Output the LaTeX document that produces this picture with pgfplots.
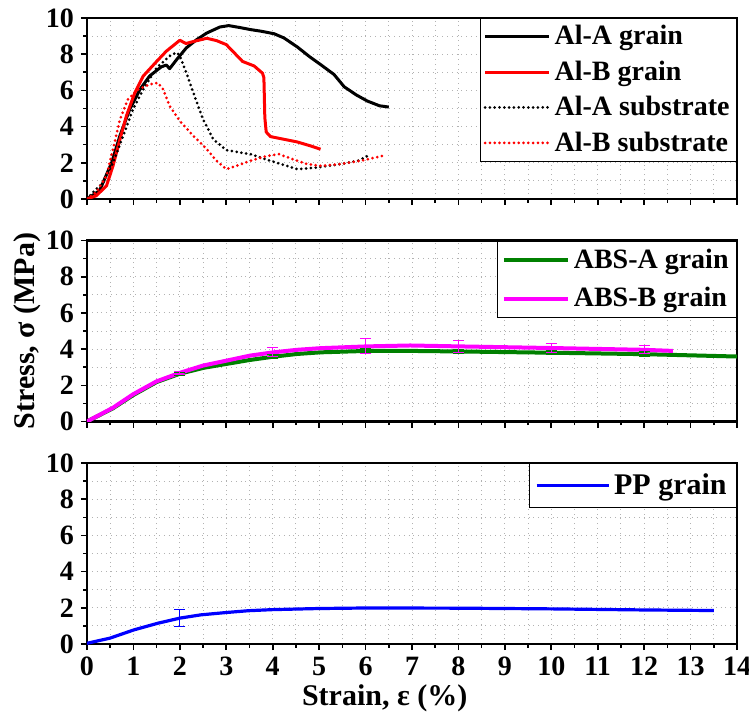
\documentclass[border=0pt]{standalone}
\usepackage{fontspec}
\setmainfont{Liberation Serif}
\usepackage{pgfplots}
\pgfplotsset{compat=1.18}
\usepgfplotslibrary{groupplots}
\definecolor{myGreen}{RGB}{0,128,0}
\definecolor{myMag}{RGB}{255,0,255}
\tikzset{mydots/.style={line width=1.5pt, dash pattern=on 0pt off 2.4pt, line cap=round}}
\begin{document}
\begin{tikzpicture}
\begin{groupplot}[
 group style={group size=1 by 3, vertical sep=20.75pt, x descriptions at=edge bottom},
 width=325pt, height=90.5pt, scale only axis,
 xmin=0, xmax=14, ymin=0, ymax=10,
 xtick={0,...,14}, minor x tick num=1,
 ytick={0,2,...,10}, minor y tick num=1,
 tick pos=left, tick align=outside,
 major tick length=3pt, minor tick length=1.8pt,
 every tick/.style={black, line width=0.8pt},
 axis line style={line width=1.1pt},
 grid=both,
 major grid style={gray!60, dotted, line width=0.5pt},
 minor grid style={gray!60, dotted, line width=0.5pt},
 tick label style={font=\bfseries\fontsize{14}{16}\selectfont},
 /pgf/number format/assume math mode=true,
 legend cell align=left,
 legend style={at={(1,1)}, anchor=north east, draw=black, line width=0.4pt,
   font=\bfseries\fontsize{14}{16}\selectfont, inner sep=1.5pt, row sep=2.5pt},
 legend image code/.code={\draw[#1] (0pt,0pt) -- (32pt,0pt);},
]
% ---------------- top panel
\nextgroupplot
\addplot[black, line width=1.5pt, line join=round] coordinates {
(0,0) (0.27,0.46) (0.53,2.0) (0.71,3.5) (0.92,4.95) (1.14,6.05) (1.35,6.8) (1.6,7.3) (1.71,7.4) (1.78,7.2) (1.93,7.7) (2.14,8.35) (2.36,8.8) (2.58,9.17) (2.86,9.5) (3.05,9.58) (3.3,9.47) (3.52,9.36) (3.75,9.27) (4.03,9.13) (4.24,8.9) (4.53,8.4) (4.8,7.85) (5.03,7.43) (5.32,6.88) (5.54,6.2) (5.8,5.75) (6.04,5.41) (6.3,5.15) (6.5,5.08)
};
\addlegendentry{Al-A grain}
\addplot[red, line width=1.5pt, line join=round] coordinates {
(0,0) (0.2,0.18) (0.42,0.73) (0.56,1.83) (0.71,3.3) (0.85,4.6) (1.03,5.87) (1.21,6.79) (1.5,7.6) (1.71,8.17) (2.0,8.77) (2.13,8.59) (2.29,8.7) (2.58,8.88) (2.79,8.75) (3.0,8.53) (3.2,8.0) (3.35,7.6) (3.6,7.35) (3.78,6.95) (3.81,6.7) (3.83,4.5) (3.86,3.7) (3.95,3.45) (4.24,3.3) (4.53,3.15) (4.82,2.93) (5.03,2.75)
};
\addlegendentry{Al-B grain}
\addplot[black, mydots] coordinates {
(0,0) (0.13,0.37) (0.35,0.92) (0.56,2.0) (0.78,3.49) (0.99,4.95) (1.21,6.05) (1.5,7.25) (1.78,7.9) (1.93,8.1) (2.0,7.9) (2.14,6.97) (2.29,5.87) (2.5,4.4) (2.72,3.3) (3.0,2.7) (3.3,2.57) (3.52,2.48) (3.95,2.11) (4.53,1.65) (4.96,1.74) (5.46,1.93) (5.83,2.11) (6.08,2.42)
};
\addlegendentry{Al-A substrate}
\addplot[red, mydots] coordinates {
(0,0) (0.2,0.37) (0.42,1.28) (0.56,2.75) (0.71,4.4) (0.88,5.5) (1.1,6.05) (1.35,6.33) (1.53,6.42) (1.64,6.06) (1.78,5.14) (2.0,4.31) (2.29,3.49) (2.58,2.75) (2.79,2.11) (3.0,1.65) (3.22,1.83) (3.52,2.11) (3.88,2.38) (4.13,2.48) (4.53,2.11) (4.74,1.93) (5.03,1.83) (5.46,1.93) (5.9,2.11) (6.36,2.38)
};
\addlegendentry{Al-B substrate}
% ---------------- middle panel
\nextgroupplot[ylabel={Stress, σ (MPa)},
 ylabel style={font=\bfseries\fontsize{15}{18}\selectfont, at={(axis description cs:-0.092,0.5)}, anchor=center},
 legend style={row sep=4pt, inner sep=2pt}]
\addplot[myGreen, line width=2pt, line join=round] coordinates {
(0,0) (0.56,0.73) (0.99,1.45) (1.5,2.18) (2.0,2.64) (2.5,2.96) (3.0,3.18) (3.51,3.4) (4.01,3.58) (4.52,3.73) (5.02,3.82) (6.03,3.9) (6.96,3.9) (8.0,3.87) (10.0,3.8) (12.0,3.72) (14.0,3.59)
};
\addlegendentry{ABS-A grain}
\addplot[myMag, line width=2pt, line join=round] coordinates {
(0,0) (0.56,0.76) (0.99,1.5) (1.5,2.22) (2.0,2.69) (2.5,3.09) (3.0,3.36) (3.51,3.64) (4.01,3.82) (4.52,3.96) (5.02,4.05) (6.03,4.15) (6.96,4.2) (8.0,4.15) (10.0,4.06) (12.0,3.96) (12.62,3.9)
};
\addlegendentry{ABS-B grain}
\addplot[draw=none, forget plot, error bars/.cd, y dir=both, y explicit,
  error bar style={myGreen, line width=0.5pt},
  error mark options={myGreen, rotate=90, mark size=2.8pt, line width=0.5pt}] coordinates {
(2,2.62) +- (0,0.1) (4,3.6) +- (0,0.12) (6,3.9) +- (0,0.12) (8,3.87) +- (0,0.12) (10,3.8) +- (0,0.12) (12,3.72) +- (0,0.12)
};
\addplot[draw=none, forget plot, error bars/.cd, y dir=both, y explicit,
  error bar style={myMag, line width=0.5pt},
  error mark options={myMag, rotate=90, mark size=2.8pt, line width=0.5pt}] coordinates {
(2,2.69) +- (0,0.1) (4,3.85) +- (0,0.25) (6,4.17) +- (0,0.4) (8,4.15) +- (0,0.35) (10,4.07) +- (0,0.25) (12,3.96) +- (0,0.23)
};
% ---------------- bottom panel
\nextgroupplot[xlabel={Strain, ε (\%)},
 xlabel style={font=\bfseries\fontsize{15}{18}\selectfont, at={(axis description cs:0.458,-0.30)}, anchor=center},
 legend style={inner sep=3pt, font=\bfseries\fontsize{15}{17}\selectfont},
 legend image code/.code={\draw[#1] (0pt,0pt) -- (36pt,0pt);}]
\addplot[blue, line width=1.6pt, line join=round] coordinates {
(0,0.04) (0.49,0.32) (1.01,0.78) (1.53,1.15) (2.0,1.43) (2.45,1.61) (3.0,1.74) (3.48,1.84) (4.0,1.9) (4.98,1.96) (6.01,1.99) (8.02,1.98) (10.03,1.94) (12.04,1.88) (13.5,1.85)
};
\addlegendentry{PP grain}
\addplot[draw=none, forget plot, error bars/.cd, y dir=both, y explicit,
  error bar style={blue, line width=0.5pt},
  error mark options={blue, rotate=90, mark size=2.8pt, line width=0.5pt}] coordinates {
(2,1.43) +- (0,0.46)
};
\end{groupplot}
\pgfresetboundingbox
\path ([xshift=-43.5pt,yshift=9pt]group c1r1.north west) rectangle ([xshift=6pt,yshift=-36.5pt]group c1r3.south east);
\end{tikzpicture}
\end{document}
